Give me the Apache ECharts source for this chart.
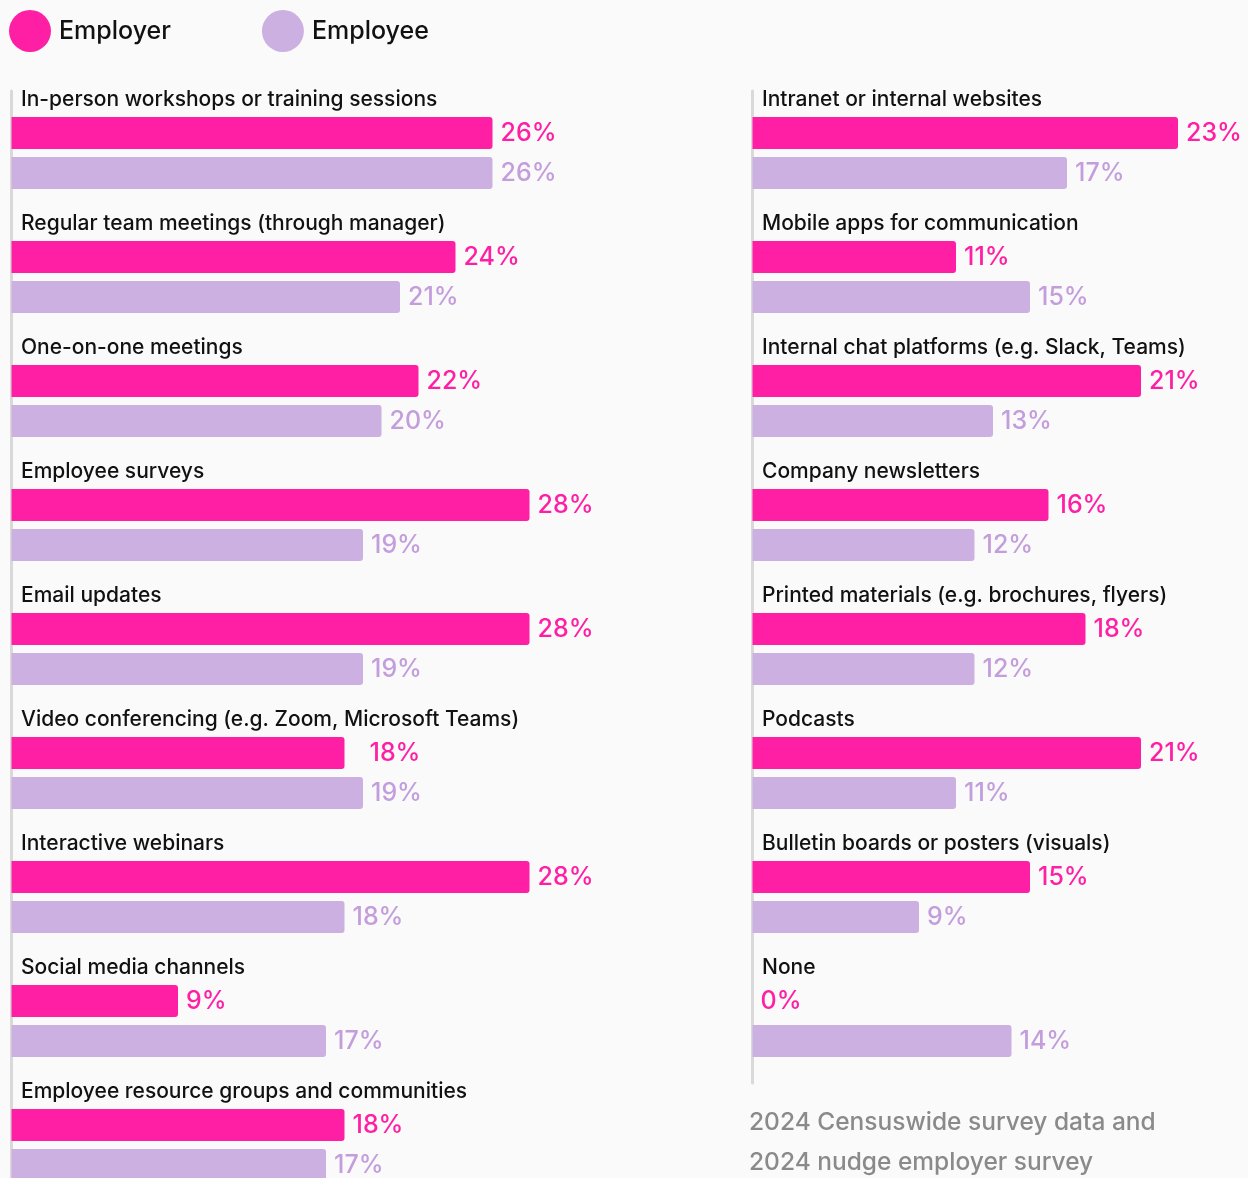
<!DOCTYPE html>
<html>
<head>
<meta charset="utf-8">
<script src="https://cdn.jsdelivr.net/npm/echarts@6/dist/echarts.min.js"></script>
<style>
  html, body { margin: 0; padding: 0; background: #fafafa; }
  #chart { width: 1248px; height: 1178px; }
</style>
</head>
<body>
<div id="chart"></div>
<script>
// left column
const leftCategories = [
  "In-person workshops or training sessions",
  "Regular team meetings (through manager)",
  "One-on-one meetings",
  "Employee surveys",
  "Email updates",
  "Video conferencing (e.g. Zoom, Microsoft Teams)",
  "Interactive webinars",
  "Social media channels",
  "Employee resource groups and communities"
]
const leftEmployer = [26, 24, 22, 28, 28, 18, 28, 9, 18]
const leftEmployee = [26, 21, 20, 19, 19, 19, 18, 17, 17]

// right column
const rightCategories = [
  "Intranet or internal websites",
  "Mobile apps for communication",
  "Internal chat platforms (e.g. Slack, Teams)",
  "Company newsletters",
  "Printed materials (e.g. brochures, flyers)",
  "Podcasts",
  "Bulletin boards or posters (visuals)",
  "None"
]
const rightEmployer = [23, 11, 21, 16, 18, 21, 15, 0]
const rightEmployee = [17, 15, 13, 12, 12, 11, 9, 14]

const sourceLines = ["2024 Censuswide survey data and", "2024 nudge employer survey"]

const PINK = "#ff1fa5"
const LAVENDER = "#cdb0e2"
const LAVENDER_TEXT = "#c39ddc"
const FONT = "Inter"
const BAND = 124
const TOP = 91

const chart = echarts.init(document.getElementById("chart"))

function yAxisFor(gridIndex, cats) {
  return {
    type: "category",
    gridIndex,
    data: cats,
    inverse: true,
    offset: 1.5,
    axisTick: { show: false },
    axisLine: { show: true, lineStyle: { color: "#d9d9d9", width: 3 } },
    axisLabel: {
      inside: true,
      margin: 11,
      color: "#111",
      fontFamily: FONT,
      fontSize: 21,
      fontWeight: 500,
      verticalAlign: "bottom",
      lineHeight: 20,
      padding: [0, 0, 43, 0]
    }
  }
}

function xAxisFor(gridIndex, max) {
  return {
    type: "value",
    gridIndex,
    min: 0,
    max,
    show: false,
    splitLine: { show: false }
  }
}

function barSeries(name, data, gridIndex, color, textColor) {
  return {
    name,
    type: "bar",
    xAxisIndex: gridIndex,
    yAxisIndex: gridIndex,
    data,
    barWidth: 32,
    barGap: "25%",
    itemStyle: { color, borderRadius: [0, 3, 3, 0] },
    label: {
      show: true,
      position: "right",
      distance: 8,
      formatter: "{c}%",
      color: textColor,
      fontFamily: FONT,
      fontSize: 25,
      fontWeight: 500
    }
  }
}

// the video conferencing employer label sits a bit further right in the original
const leftEmployerData = leftEmployer.map((v, i) =>
  i === 5 ? { value: v, label: { offset: [17, 0] } } : v
)

const option = {
  backgroundColor: "#fafafa",
  animation: false,
  legend: {
    left: 9,
    top: 10,
    padding: 0,
    icon: "circle",
    itemWidth: 42,
    itemHeight: 42,
    itemGap: 91,
    data: ["Employer", "Employee"],
    textStyle: {
      color: "#111",
      fontFamily: FONT,
      fontSize: 25,
      fontWeight: 500,
      padding: [0, 0, 0, 3]
    }
  },
  title: {
    left: 749,
    top: 1103,
    padding: 0,
    text: sourceLines.join("\n"),
    textStyle: {
      color: "#8a8a8a",
      fontFamily: FONT,
      fontSize: 24.5,
      fontWeight: 500,
      lineHeight: 40
    }
  },
  grid: [
    { left: 11.5, top: TOP, width: 18.5 * 30, height: BAND * leftCategories.length, outerBoundsMode: "none" },
    { left: 752.5, top: TOP, width: 18.5 * 26, height: BAND * rightCategories.length, outerBoundsMode: "none" }
  ],
  xAxis: [xAxisFor(0, 30), xAxisFor(1, 26)],
  yAxis: [yAxisFor(0, leftCategories), yAxisFor(1, rightCategories)],
  series: [
    barSeries("Employer", leftEmployerData, 0, PINK, PINK),
    barSeries("Employee", leftEmployee, 0, LAVENDER, LAVENDER_TEXT),
    barSeries("Employer", rightEmployer, 1, PINK, PINK),
    barSeries("Employee", rightEmployee, 1, LAVENDER, LAVENDER_TEXT)
  ]
}

chart.setOption(option)
</script>
</body>
</html>
